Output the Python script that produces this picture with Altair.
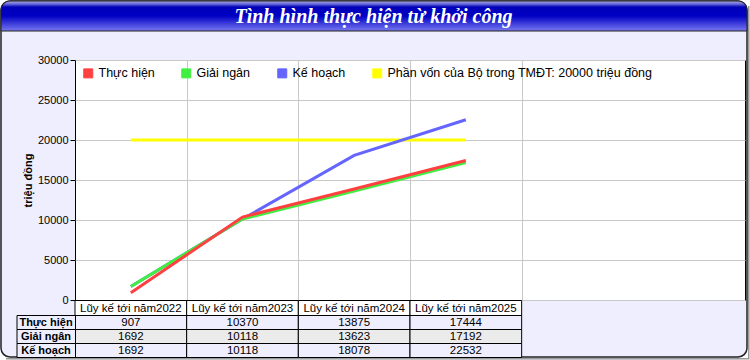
import altair as alt
import pandas as pd

# ---------------- data ----------------
categories = ["Lũy kế tới năm2022", "Lũy kế tới năm2023", "Lũy kế tới năm2024", "Lũy kế tới năm2025"]
thuc_hien = [907, 10370, 13875, 17444]
giai_ngan = [1692, 10118, 13623, 17192]
ke_hoach = [1692, 10118, 18078, 22532]
phan_von = [20000, 20000, 20000, 20000]
series_names = ["Thực hiện", "Giải ngân", "Kế hoạch", "Phần vốn của Bộ trong TMĐT: 20000 triệu đồng"]
series_colors = ["#FF4040", "#40F040", "#6464FF", "#FFFF00"]
y_ticks = [0, 5000, 10000, 15000, 20000, 25000, 30000]
x_grid = [1, 2, 3, 4]
table_rows = ["Thực hiện", "Giải ngân", "Kế hoạch"]
title_text = "Tình hình thực hiện từ khởi công"
y_title = "triệu đồng"

# ---------------- tables ----------------
series_values = [thuc_hien, giai_ngan, ke_hoach, phan_von]
line_rows = []
for s in [3, 2, 1, 0]:  # drawing order: yellow, blue, green, red
    for i, v in enumerate(series_values[s]):
        line_rows.append({"pos": i + 0.5, "value": v, "series": series_names[s], "cat": categories[i]})
lines_df = pd.DataFrame(line_rows)

header_df = pd.DataFrame({
    "col": [i for i in range(len(categories))],
    "col_end": [i + 1 for i in range(len(categories))],
    "mid": [i + 0.5 for i in range(len(categories))],
    "label": categories,
})

one = pd.DataFrame({"k": [0]})

FONT = "Liberation Sans"
x_scale = alt.Scale(domain=[0, 6], nice=False, zero=False)
y_scale = alt.Scale(domain=[0, 30000], nice=False)
color_scale = alt.Scale(domain=series_names, range=series_colors)

x_axis = alt.Axis(values=x_grid, grid=True, gridColor="#C8C8C8", labels=False,
                  ticks=False, domain=False, title=None)
y_axis = alt.Axis(values=y_ticks, format="d", grid=True, gridColor="#C8C8C8", domain=False,
                  tickColor="black", tickSize=5, labelPadding=2, labelFont=FONT,
                  labelFontSize=11, labelColor="black", labelOverlap=False,
                  title=y_title, titleFont=FONT,
                  titleFontSize=11, titleFontWeight="bold", titleColor="black",
                  titlePadding=4)
legend = alt.Legend(
    orient="none", legendX=7, legendY=7, direction="horizontal", title=None,
    symbolType="square", symbolSize=81, symbolStrokeWidth=1,
    symbolStrokeColor="black", symbolOpacity=1,
    labelFont=FONT, labelFontSize=12.5, labelColor="black", labelOffset=4, labelLimit=500,
    columnPadding=24, padding=0)


def deco_rect(x, x2, y, y2, **kw):
    return alt.Chart(one).mark_rect(**kw).encode(
        x=alt.value(x), x2=alt.value(x2), y=alt.value(y), y2=alt.value(y2))

layers = []

# white corners outside the rounded frame
for (x, y) in [(-75, -60), (665, -60), (-75, 290), (665, 290)]:
    layers.append(deco_rect(x, x + 10, y, y + 10, fill="white"))
# lavender rounded bottom corners
layers.append(deco_rect(-74, -60, 280, 297, fill="#EEEEFF", cornerRadius=9))
layers.append(deco_rect(658, 672, 280, 297, fill="#EEEEFF", cornerRadius=9))
# shadow strips
layers.append(deco_rect(673, 674.5, -54, 298, fill="#999999"))
layers.append(deco_rect(-69, 674.5, 298, 299.5, fill="#999999"))
# frame border
layers.append(deco_rect(-74, 672, -59, 297, fill="white", fillOpacity=0,
                        stroke="#222222", strokeWidth=1.5, cornerRadius=9))
# title bar
grad = alt.Gradient(
    gradient="linear",
    stops=[
        alt.GradientStop(color="#A8A8EC", offset=0),
        alt.GradientStop(color="#6A6AD8", offset=0.1),
        alt.GradientStop(color="#0000B8", offset=0.2),
        alt.GradientStop(color="#0000C4", offset=0.5),
        alt.GradientStop(color="#7878F0", offset=1),
    ],
    x1=0, x2=0, y1=0, y2=1,
)
layers.append(deco_rect(-74, 672, -59, -29, fill=grad, stroke="#222222", strokeWidth=1,
                        cornerRadiusTopLeft=9, cornerRadiusTopRight=9))
layers.append(alt.Chart(one).mark_text(
    text=title_text, font="Liberation Serif", fontSize=20, fontWeight="bold", fontStyle="italic",
    color="white", align="center", baseline="alphabetic").encode(
    x=alt.value(298.5), y=alt.value(-37)))

# lines (stroke colour; no legend of their own)
lines = alt.Chart(lines_df).mark_line(strokeWidth=3).encode(
    x=alt.X("pos:Q", scale=x_scale, axis=x_axis),
    y=alt.Y("value:Q", scale=y_scale, axis=y_axis),
    color=alt.Color("series:N", scale=color_scale, legend=None),
    order=alt.Order("pos:Q"),
)

# zero-size points carrying the legend (filled square symbols with black edge)
legend_pts = alt.Chart(lines_df).mark_point(
    filled=True, shape="square", size=0, stroke="black", strokeWidth=1).encode(
    x=alt.X("pos:Q", scale=x_scale, axis=x_axis),
    y=alt.Y("value:Q", scale=y_scale, axis=y_axis),
    fill=alt.Fill("series:N", scale=color_scale, legend=legend),
)
layers.append(legend_pts)
layers.append(lines)

# data table: header row
layers.append(alt.Chart(header_df).mark_rect(fill="white", stroke="black", strokeWidth=1).encode(
    x=alt.X("col:Q", scale=x_scale, axis=x_axis), x2="col_end:Q",
    y=alt.value(240.5), y2=alt.value(255.5)))
layers.append(alt.Chart(header_df).mark_text(font=FONT, fontSize=11.5, color="black",
                                             align="center", baseline="middle").encode(
    x=alt.X("mid:Q", scale=x_scale, axis=x_axis), y=alt.value(248.5), text="label:N"))

row_fills = ["#EEEEFF", "#EBEBEB", "#EEEEFF"]
for r, (name, vals) in enumerate(zip(table_rows, series_values[:3])):
    rdf = pd.DataFrame({
        "col": [i for i in range(len(vals))],
        "col_end": [i + 1 for i in range(len(vals))],
        "mid": [i + 0.5 for i in range(len(vals))],
        "val": vals,
        "row": [name] * len(vals),
    })
    y0 = 255.5 + 14 * r
    layers.append(alt.Chart(rdf).mark_rect(fill=row_fills[r], stroke="black", strokeWidth=1).encode(
        x=alt.X("col:Q", scale=x_scale, axis=x_axis), x2="col_end:Q",
        y=alt.value(y0), y2=alt.value(y0 + 14)))
    layers.append(alt.Chart(rdf).mark_text(font=FONT, fontSize=11.5, color="black",
                                           align="center", baseline="middle").encode(
        x=alt.X("mid:Q", scale=x_scale, axis=x_axis), y=alt.value(y0 + 7.5),
        text=alt.Text("val:Q", format="d")))
    ldf = pd.DataFrame({"row": [name]})
    layers.append(alt.Chart(ldf).mark_rect(fill="#EEEEFF", stroke="black", strokeWidth=1).encode(
        x=alt.value(-58), x2=alt.value(0.5), y=alt.value(y0), y2=alt.value(y0 + 14)))
    layers.append(alt.Chart(ldf).mark_text(font=FONT, fontSize=11, fontWeight="bold", color="black",
                                           align="center", baseline="middle").encode(
        x=alt.value(-29), y=alt.value(y0 + 7.5), text="row:N"))

chart = alt.layer(*layers).properties(
    width=670, height=240,
    padding={"left": 75, "top": 60, "right": 5, "bottom": 60},
    autosize="none",
    background="#EEEEFF",
).configure_view(fill="white", stroke="black", strokeWidth=1)

chart.save("out.html", embed_options={"renderer": "svg", "actions": False})
